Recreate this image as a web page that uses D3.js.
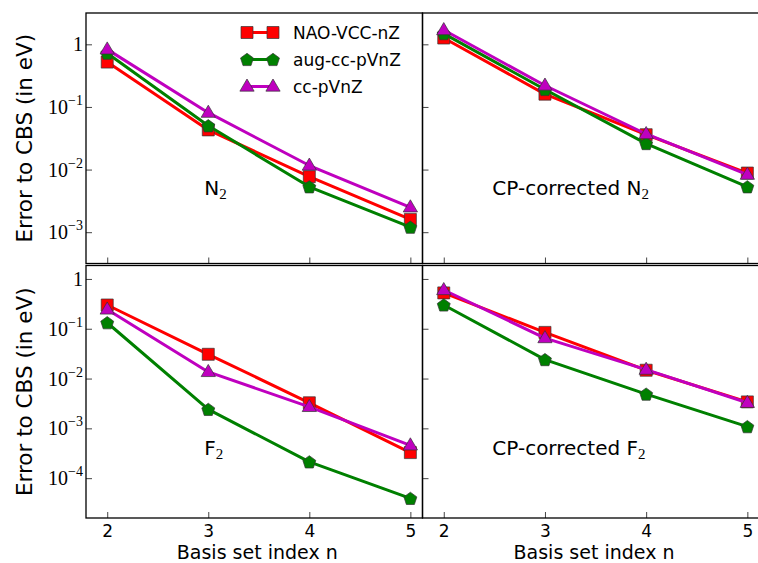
<!DOCTYPE html>
<html><head><meta charset="utf-8">
<script src="https://cdn.jsdelivr.net/npm/d3@7"></script>
<style>body{margin:0;background:#fff;} svg{display:block;}</style>
</head><body>
<svg id="c" width="758" height="563"></svg>
<script>
// ---------- data ----------
const nValues = [2, 3, 4, 5];
const seriesNames = ["NAO-VCC-nZ", "aug-cc-pVnZ", "cc-pVnZ"];
const seriesColors = ["#ff0000", "#008000", "#bf00bf"];
const seriesMarkers = ["square", "pentagon", "triangle"];

const n2_nao = [0.52, 0.043, 0.0077, 0.0016];
const n2_aug = [0.72, 0.050, 0.0053, 0.0012];
const n2_cc  = [0.83, 0.081, 0.0116, 0.0025];

const cpn2_nao = [1.26, 0.16, 0.036, 0.0088];
const cpn2_aug = [1.48, 0.19, 0.026, 0.0053];
const cpn2_cc  = [1.69, 0.22, 0.037, 0.0083];

const f2_nao = [0.30, 0.0307, 0.00326, 0.000326];
const f2_aug = [0.132, 0.0024, 0.000212, 0.0000392];
const f2_cc  = [0.244, 0.0136, 0.0027, 0.000457];

const cpf2_nao = [0.525, 0.0845, 0.0147, 0.0034];
const cpf2_aug = [0.30, 0.024, 0.00486, 0.00108];
const cpf2_cc  = [0.60, 0.065, 0.0151, 0.00326];

const xTicks = [2, 3, 4, 5];
const yTicksTop = [1, 1e-1, 1e-2, 1e-3];
const yTicksBottom = [1, 1e-1, 1e-2, 1e-3, 1e-4];
const panelLabels = ["N", "CP-corrected N", "F", "CP-corrected F"];
const yLabel = "Error to CBS (in eV)";
const xLabel = "Basis set index n";

// ---------- layout ----------
const svg = d3.select("#c");
const colX = [[86, 422.5], [422.5, 759.5]];
const rowY = [[13, 263.5], [265.5, 518]];
const xDomain = [1.79, 5.12];
const yDomains = [[Math.pow(10, -3.5), Math.pow(10, 0.5)], [Math.pow(10, -4.8), Math.pow(10, 0.27)]];

const panels = [
  {r:0, c:0, data:[n2_nao, n2_aug, n2_cc], label:panelLabels[0], lx:2.96, ly:Math.pow(10,-2.4), ticks:yTicksTop},
  {r:0, c:1, data:[cpn2_nao, cpn2_aug, cpn2_cc], label:panelLabels[1], lx:2.48, ly:Math.pow(10,-2.4), ticks:yTicksTop},
  {r:1, c:0, data:[f2_nao, f2_aug, f2_cc], label:panelLabels[2], lx:2.96, ly:Math.pow(10,-3.54), ticks:yTicksBottom},
  {r:1, c:1, data:[cpf2_nao, cpf2_aug, cpf2_cc], label:panelLabels[3], lx:2.48, ly:Math.pow(10,-3.54), ticks:yTicksBottom}
];

function markerPath(type) {
  if (type === "square") {
    const h = 6;
    return `M${-h},${-h}H${h}V${h}H${-h}Z`;
  }
  if (type === "pentagon") {
    const r = 6.8;
    const pts = d3.range(5).map(i => {
      const a = -Math.PI/2 + i*2*Math.PI/5;
      return [r*Math.cos(a), r*Math.sin(a) + 0.6];
    });
    return "M" + pts.map(p => p.join(",")).join("L") + "Z";
  }
  const r = 7.5;
  const pts = [[0, -r], [r*0.95, r*0.62], [-r*0.95, r*0.62]];
  return "M" + pts.map(p => p.join(",")).join("L") + "Z";
}

const sansFont = "'DejaVu Sans', sans-serif";
const serifFont = "'Liberation Serif', 'DejaVu Serif', serif";

panels.forEach(p => {
  const [x0, x1] = colX[p.c];
  const [y0, y1] = rowY[p.r];
  const x = d3.scaleLinear().domain(xDomain).range([x0, x1]);
  const y = d3.scaleLog().domain(yDomains[p.r]).range([y1, y0]);
  const g = svg.append("g");

  const clipId = `clip${p.r}${p.c}`;
  svg.append("clipPath").attr("id", clipId).append("rect")
    .attr("x", x0).attr("y", y0).attr("width", x1 - x0).attr("height", y1 - y0);

  const xAxis = d3.axisBottom(x).tickValues(xTicks).tickSizeInner(-6).tickSizeOuter(0)
    .tickFormat(p.r === 1 ? d3.format("d") : "");
  const gx = g.append("g").attr("transform", `translate(0,${y1})`).call(xAxis);
  gx.select(".domain").remove();
  gx.selectAll(".tick line").attr("stroke", "#444").attr("stroke-width", 1);
  gx.selectAll(".tick text").attr("font-family", sansFont).attr("font-size", 17)
    .attr("fill", "#000").attr("dy", 0).attr("y", 18.5);

  const yAxis = d3.axisLeft(y).tickValues(p.ticks).tickSizeInner(-6).tickSizeOuter(0).tickFormat("");
  const gy = g.append("g").attr("transform", `translate(${x0},0)`).call(yAxis);
  gy.select(".domain").remove();
  gy.selectAll(".tick line").attr("stroke", "#444").attr("stroke-width", 1);

  if (p.c === 0) {
    p.ticks.forEach(t => {
      const e = Math.round(Math.log10(t));
      const tx = g.append("text").attr("x", x0 - 3).attr("y", y(t) + 7)
        .attr("text-anchor", "end").attr("font-family", serifFont).attr("font-size", 20).attr("fill", "#000");
      if (e === 0) {
        tx.text("1");
      } else {
        tx.append("tspan").text("10");
        tx.append("tspan").attr("dy", -9).attr("font-size", 14).text("\u2212" + (-e));
      }
    });
  }

  const line = d3.line().x((d, i) => x(nValues[i])).y(d => y(d));
  p.data.forEach((vals, si) => {
    const sg = g.append("g").attr("clip-path", `url(#${clipId})`);
    sg.append("path").datum(vals).attr("d", line).attr("fill", "none")
      .attr("stroke", seriesColors[si]).attr("stroke-width", 3).attr("stroke-linejoin", "round");
    sg.selectAll("path.m").data(vals).enter().append("path").attr("class", "m")
      .attr("d", markerPath(seriesMarkers[si]))
      .attr("transform", (d, i) => `translate(${x(nValues[i])},${y(d)})`)
      .attr("fill", seriesColors[si]).attr("stroke", "#333").attr("stroke-width", 0.7);
  });

  const lt = g.append("text").attr("x", x(p.lx)).attr("y", y(p.ly))
    .attr("font-family", sansFont).attr("font-size", 20).attr("fill", "#000");
  lt.append("tspan").text(p.label);
  lt.append("tspan").attr("font-family", serifFont).attr("font-size", 15).attr("dy", 4).text("2");

  g.append("rect").attr("x", x0).attr("y", y0).attr("width", x1 - x0).attr("height", y1 - y0)
    .attr("fill", "none").attr("stroke", "#000").attr("stroke-width", 1.3);
});

const legendRows = [32.5, 59.5, 86.5];
seriesNames.forEach((name, si) => {
  const lg = svg.append("g");
  lg.append("line").attr("x1", 247).attr("x2", 273).attr("y1", legendRows[si]).attr("y2", legendRows[si])
    .attr("stroke", seriesColors[si]).attr("stroke-width", 3);
  [247, 273].forEach(mx => {
    lg.append("path").attr("d", markerPath(seriesMarkers[si]))
      .attr("transform", `translate(${mx},${legendRows[si]})`)
      .attr("fill", seriesColors[si]).attr("stroke", "#333").attr("stroke-width", 0.7);
  });
  lg.append("text").attr("x", 293).attr("y", legendRows[si] + 6)
    .attr("font-family", sansFont).attr("font-size", 17).attr("fill", "#000").text(name);
});

[0, 1].forEach(r => {
  const cy = (rowY[r][0] + rowY[r][1]) / 2;
  svg.append("text").attr("transform", `translate(32,${cy}) rotate(-90)`)
    .attr("text-anchor", "middle").attr("font-family", sansFont).attr("font-size", 21.5)
    .attr("fill", "#000").text(yLabel);
});
[0, 1].forEach(c => {
  const cx = (colX[c][0] + colX[c][1]) / 2 + 3;
  svg.append("text").attr("x", cx).attr("y", 558.5)
    .attr("text-anchor", "middle").attr("font-family", sansFont).attr("font-size", 19)
    .attr("fill", "#000").text(xLabel);
});
</script>
</body></html>
